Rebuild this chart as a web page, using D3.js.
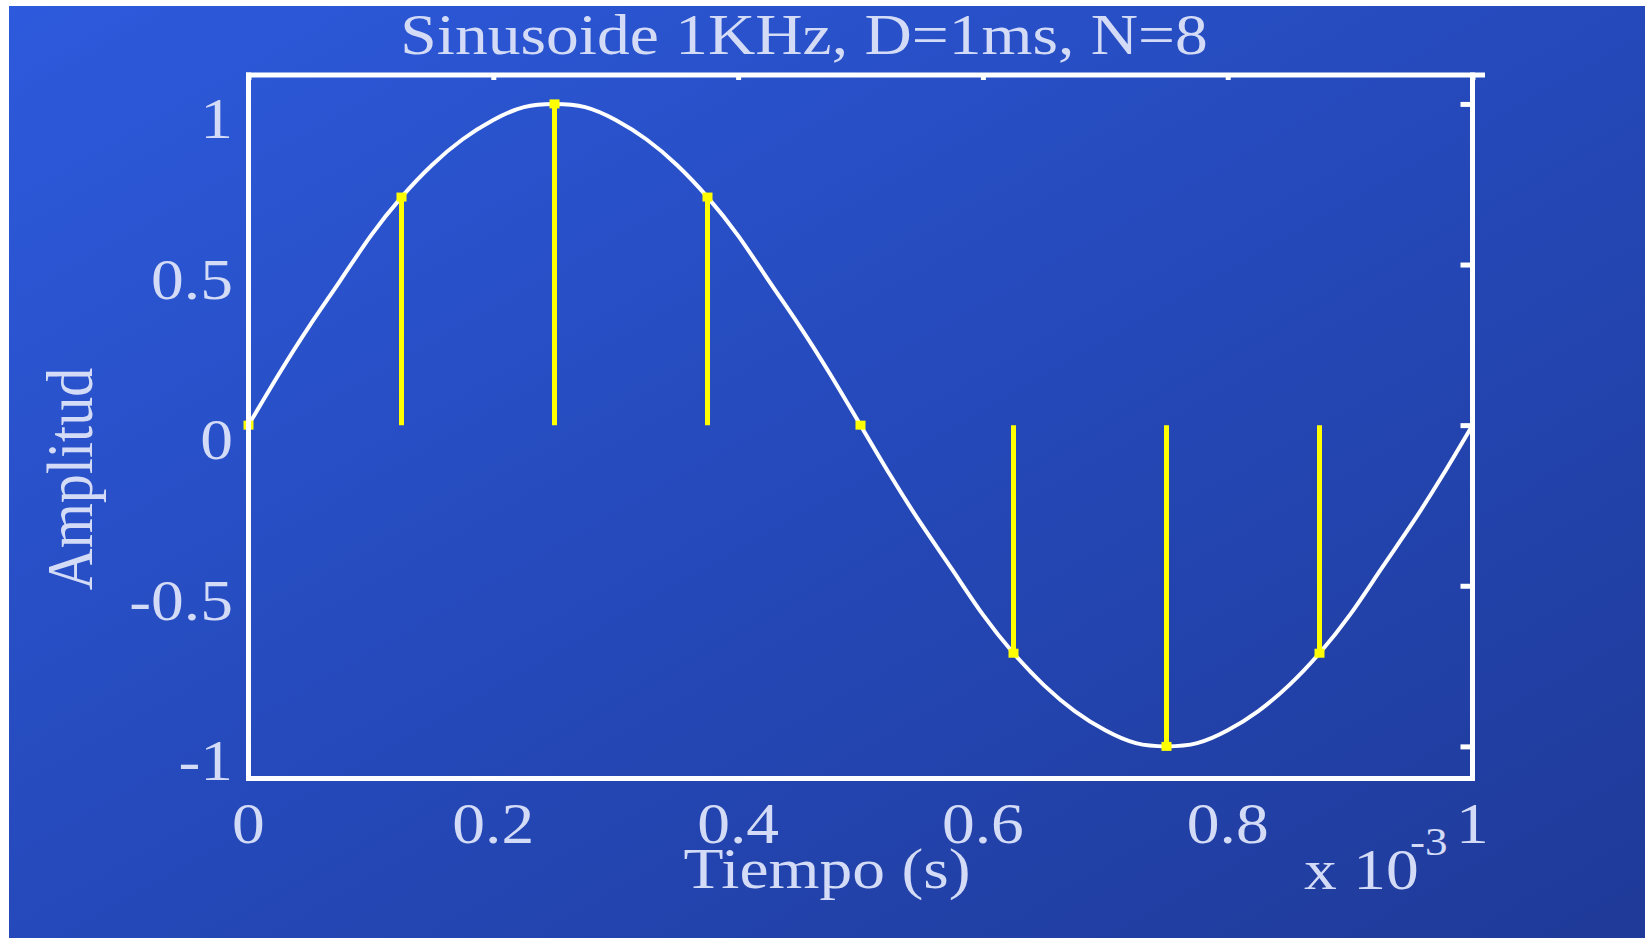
<!DOCTYPE html>
<html>
<head>
<meta charset="utf-8">
<script src="https://cdn.jsdelivr.net/npm/d3@7/dist/d3.min.js"></script>
<style>
  html, body { margin: 0; padding: 0; background: #ffffff; }
  svg { display: block; }
</style>
</head>
<body>
<svg id="chart" width="1645" height="938"></svg>
<script>
// ---- data ----
const sampleTimes  = [0, 0.125, 0.25, 0.375, 0.5, 0.625, 0.75, 0.875];
const sampleValues = [0, 0.71, 1.0, 0.71, 0, -0.71, -1.0, -0.71];

const curveTimes = [0, 0.025, 0.05, 0.075, 0.1, 0.125, 0.15, 0.175, 0.2, 0.225,
                    0.25, 0.275, 0.3, 0.325, 0.35, 0.375, 0.4, 0.425, 0.45, 0.475,
                    0.5, 0.525, 0.55, 0.575, 0.6, 0.625, 0.65, 0.675, 0.7, 0.725,
                    0.75, 0.775, 0.8, 0.825, 0.85, 0.875, 0.9, 0.925, 0.95, 0.975, 1.0];
const curveValues = [0, 0.16, 0.31, 0.45, 0.59, 0.71, 0.81, 0.89, 0.95, 0.99,
                     1.0, 0.99, 0.95, 0.89, 0.81, 0.71, 0.59, 0.45, 0.31, 0.16,
                     0, -0.16, -0.31, -0.45, -0.59, -0.71, -0.81, -0.89, -0.95, -0.99,
                     -1.0, -0.99, -0.95, -0.89, -0.81, -0.71, -0.59, -0.45, -0.31, -0.16, 0];

const xTicks = [0, 0.2, 0.4, 0.6, 0.8, 1];
const xTickLabels = ["0", "0.2", "0.4", "0.6", "0.8", "1"];
const yTicks = [-1, -0.5, 0, 0.5, 1];
const yTickLabels = ["-1", "-0.5", "0", "0.5", "1"];

const titleText = "Sinusoide 1KHz, D=1ms, N=8";
const xLabelText = "Tiempo (s)";
const yLabelText = "Amplitud";
const xExpText = "x 10";
const xExpSup = "-3";

(function () {
// ---- layout ----
const W = 1645, H = 938;
const pLeft = 248.5, pRight = 1472.5, pTop = 75, pBottom = 778.5;
const font = "'Liberation Serif', 'Times New Roman', serif";
const fs = 58, sx = 1.13;
const textColor = "#d3dbf6";

const svg = d3.select("#chart");
const defs = svg.append("defs");
const grad = defs.append("linearGradient").attr("id", "bg")
  .attr("x1", 0).attr("y1", 0).attr("x2", 1).attr("y2", 1);
grad.append("stop").attr("offset", "0%").attr("stop-color", "rgb(45,90,220)");
grad.append("stop").attr("offset", "50%").attr("stop-color", "rgb(37,73,186)");
grad.append("stop").attr("offset", "100%").attr("stop-color", "rgb(31,58,152)");

svg.append("rect").attr("width", W).attr("height", H).attr("fill", "#ffffff");
svg.append("rect").attr("x", 9).attr("y", 6).attr("width", W - 9).attr("height", H - 6)
  .attr("fill", "url(#bg)");

const x = d3.scaleLinear().domain([0, 1]).range([pLeft, pRight]);
const y = d3.scaleLinear().domain([-1.1, 1.09]).range([pBottom, pTop]);

// curve
const line = d3.line().x((d, i) => x(curveTimes[i])).y(d => y(d)).curve(d3.curveNatural);
svg.append("path").datum(curveValues)
  .attr("d", line)
  .attr("fill", "none").attr("stroke", "#ffffff").attr("stroke-width", 4);

// stems
svg.append("g").selectAll("line").data(sampleValues).join("line")
  .attr("x1", (d, i) => x(sampleTimes[i])).attr("x2", (d, i) => x(sampleTimes[i]))
  .attr("y1", y(0)).attr("y2", d => y(d))
  .attr("stroke", "#ffff00").attr("stroke-width", 5);
svg.append("g").selectAll("rect").data(sampleValues).join("rect")
  .attr("x", (d, i) => x(sampleTimes[i]) - 5).attr("y", d => y(d) - 4.5)
  .attr("width", 10).attr("height", 9).attr("fill", "#ffff00");

// axes box
const boxG = svg.append("g").attr("stroke", "#ffffff").attr("stroke-width", 5);
boxG.append("line").attr("x1", pLeft - 2.5).attr("x2", pRight + 12.5).attr("y1", pTop).attr("y2", pTop);
boxG.append("line").attr("x1", pLeft - 2.5).attr("x2", pRight + 2.5).attr("y1", pBottom).attr("y2", pBottom);
boxG.append("line").attr("x1", pLeft).attr("x2", pLeft).attr("y1", pTop - 2.5).attr("y2", pBottom + 2.5);
boxG.append("line").attr("x1", pRight).attr("x2", pRight).attr("y1", pTop - 2.5).attr("y2", pBottom + 2.5);

// inward ticks on right and top
const rAxis = svg.append("g").attr("transform", `translate(${pRight},0)`)
  .call(d3.axisRight(y).tickValues(yTicks).tickSize(-12).tickFormat(""));
rAxis.select(".domain").remove();
rAxis.selectAll("line").attr("stroke", "#ffffff").attr("stroke-width", 5);

const tAxis = svg.append("g").attr("transform", `translate(0,${pTop})`)
  .call(d3.axisTop(x).tickValues(xTicks).tickSize(-5).tickFormat(""));
tAxis.select(".domain").remove();
tAxis.selectAll("line").attr("stroke", "#ffffff").attr("stroke-width", 5);

function txt(str, tx, ty, anchor, size, extra) {
  return svg.append("text")
    .attr("transform", `translate(${tx},${ty}) scale(${sx},1)` + (extra || ""))
    .attr("text-anchor", anchor)
    .attr("font-family", font).attr("font-size", size)
    .attr("fill", textColor)
    .text(str);
}

// y tick labels
yTicks.forEach((v, i) => txt(yTickLabels[i], 233, y(v) + 34, "end", fs));
// x tick labels
xTicks.forEach((v, i) => txt(xTickLabels[i], x(v), 843, "middle", fs));

// title and axis labels
txt(titleText, 804, 54, "middle", fs);
txt(xLabelText, 827, 888, "middle", fs);
txt(yLabelText, 92, 479, "middle", fs, " rotate(-90)");

// exponent
txt(xExpText, 1304, 889, "start", fs);
txt(xExpSup, 1410, 855, "start", 40);
})();
</script>
</body>
</html>
